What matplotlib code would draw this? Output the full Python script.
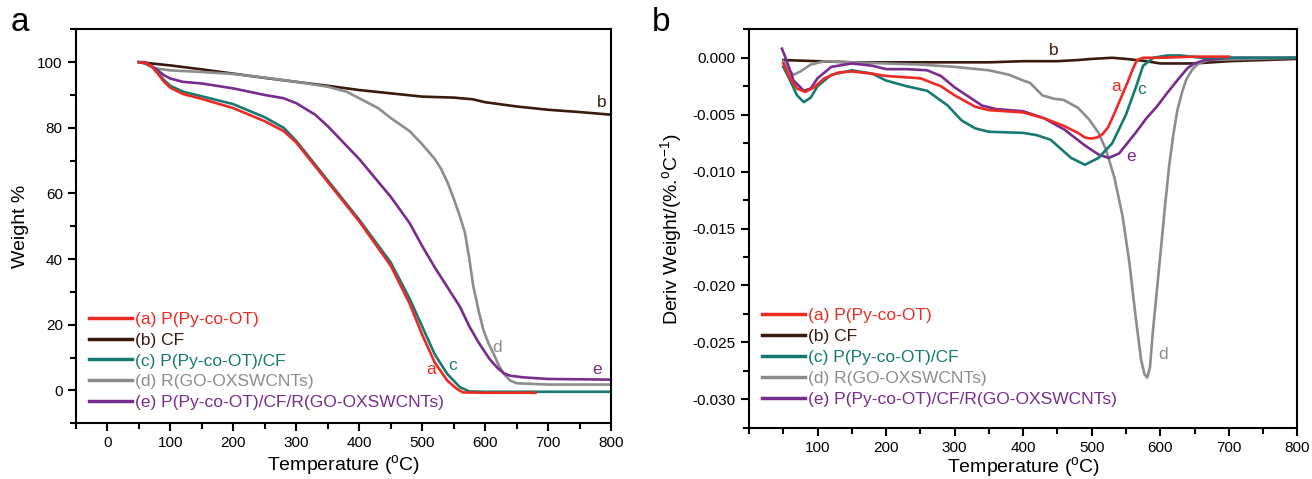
import numpy as np
import matplotlib
matplotlib.use('Agg')
from matplotlib import pyplot as plt
from matplotlib.ticker import MultipleLocator, FormatStrFormatter

plt.rcParams['font.family'] = ['Liberation Sans', 'DejaVu Sans']
plt.rcParams['mathtext.default'] = 'regular'
plt.rcParams['axes.unicode_minus'] = False

# TGA curves (panel a), temperature in C, weight in %
t_a = [50, 60, 70, 80, 90, 100, 120, 150, 200, 250, 280, 300, 350, 400, 450, 480, 500, 520, 540, 555, 565, 600, 680]
w_a = [100, 99.7, 98.8, 96.5, 94.0, 92.2, 90.3, 88.8, 86.0, 82.0, 79.0, 75.5, 63.5, 51.5, 38.0, 26.5, 17.0, 8.5, 3.0, 0.5, -0.6, -0.7, -0.7]

t_b = [50, 100, 150, 200, 250, 300, 350, 400, 450, 500, 550, 580, 600, 650, 700, 750, 800]
w_b = [100, 99.0, 97.8, 96.5, 95.2, 94.0, 92.8, 91.5, 90.5, 89.5, 89.2, 88.7, 87.8, 86.5, 85.5, 84.8, 84.0]

t_c = [50, 60, 70, 80, 90, 100, 120, 150, 200, 250, 280, 300, 350, 400, 450, 480, 500, 520, 540, 560, 575, 600, 700, 800]
w_c = [100, 99.7, 98.8, 96.8, 94.5, 92.8, 91.0, 89.6, 87.2, 83.2, 80.0, 76.0, 64.0, 52.0, 39.0, 28.0, 19.5, 11.0, 5.0, 1.0, -0.3, -0.4, -0.4, -0.4]

t_d = [50, 60, 70, 80, 100, 150, 200, 250, 300, 350, 380, 400, 430, 450, 480, 500, 520, 530, 540, 550, 560, 568, 575, 581, 590, 597, 605, 614, 622, 630, 640, 650, 700, 800]
w_d = [100, 99.5, 98.5, 98.0, 97.5, 97.0, 96.4, 95.3, 94.0, 92.5, 91.0, 89.0, 86.0, 83.0, 79.0, 75.0, 70.5, 67.5, 63.5, 58.5, 53.0, 48.0, 40.0, 32.0, 24.0, 18.6, 14.5, 11.0, 7.5, 5.0, 3.0, 2.2, 1.8, 1.8]

t_e = [50, 60, 75, 90, 100, 120, 150, 200, 250, 280, 300, 330, 350, 400, 450, 480, 500, 520, 540, 560, 575, 590, 607, 620, 630, 640, 660, 700, 800]
w_e = [100, 100, 98.2, 96.0, 95.0, 94.0, 93.5, 92.0, 90.0, 89.0, 87.5, 84.0, 80.5, 70.5, 59.0, 51.0, 44.0, 37.5, 31.5, 25.5, 19.5, 14.5, 9.6, 6.8, 5.2, 4.5, 4.0, 3.5, 3.3]

# DTG curves (panel b), derivative weight in %/C
dt_a = [50, 60, 70, 82, 95, 110, 130, 150, 180, 200, 250, 280, 300, 330, 350, 400, 430, 460, 480, 490, 499, 508, 516, 524, 533, 545, 552, 560, 566, 575, 600, 650, 700]
dw_a = [-0.0005, -0.0018, -0.0027, -0.0030, -0.0026, -0.0018, -0.0013, -0.0012, -0.0014, -0.0016, -0.0018, -0.0025, -0.0033, -0.0043, -0.0046, -0.0048, -0.0053, -0.0060, -0.0066, -0.0070, -0.0071, -0.0070, -0.0067, -0.0061, -0.0049, -0.0032, -0.0022, -0.0010, -0.0002, 0.0, 0.0, 0.0001, 0.0001]

dt_b = [50, 100, 150, 200, 250, 300, 350, 400, 450, 480, 500, 530, 550, 580, 600, 650, 700, 750, 800]
dw_b = [-0.0002, -0.0003, -0.0004, -0.0004, -0.0004, -0.0004, -0.0004, -0.0003, -0.0003, -0.0002, -0.0001, 0.0, -0.0001, -0.0003, -0.0005, -0.0005, -0.0003, -0.0002, -0.0001]

dt_c = [50, 60, 70, 80, 90, 100, 120, 150, 180, 200, 230, 260, 290, 310, 330, 350, 400, 420, 440, 470, 490, 510, 530, 550, 565, 575, 590, 610, 630, 660, 800]
dw_c = [-0.0008, -0.0020, -0.0033, -0.0039, -0.0035, -0.0025, -0.0015, -0.0011, -0.0014, -0.0020, -0.0025, -0.0029, -0.0042, -0.0055, -0.0062, -0.0065, -0.0066, -0.0068, -0.0072, -0.0088, -0.0094, -0.0088, -0.0075, -0.0050, -0.0025, -0.0007, 0.0, 0.0002, 0.0002, 0.0, 0.0]

dt_d = [50, 57, 65, 75, 90, 110, 150, 200, 250, 300, 350, 380, 400, 410, 428, 445, 459, 480, 496, 510, 521, 533, 545, 555, 564, 572, 577, 581, 585, 589, 595, 601, 607, 613, 619, 625, 632, 638, 647, 656, 670, 800]
dw_d = [-0.0003, -0.0010, -0.0015, -0.0012, -0.0006, -0.0003, -0.0004, -0.0005, -0.0006, -0.0008, -0.0011, -0.0015, -0.0020, -0.0022, -0.0033, -0.0036, -0.0037, -0.0044, -0.0054, -0.0066, -0.0081, -0.0105, -0.0139, -0.0180, -0.0227, -0.0265, -0.0278, -0.0281, -0.0272, -0.0242, -0.0205, -0.0168, -0.0130, -0.0095, -0.0068, -0.0046, -0.0030, -0.0019, -0.0010, -0.0005, -0.0002, 0.0]

dt_e = [48, 52, 58, 65, 80, 90, 100, 120, 150, 180, 200, 230, 260, 280, 300, 320, 340, 360, 400, 430, 460, 490, 510, 525, 540, 564, 580, 595, 610, 626, 640, 650, 665, 700, 800]
dw_e = [0.0008, 0.0002, -0.0008, -0.0020, -0.0029, -0.0027, -0.0018, -0.0008, -0.0005, -0.0007, -0.0010, -0.0010, -0.0011, -0.0016, -0.0026, -0.0034, -0.0042, -0.0045, -0.0047, -0.0053, -0.0063, -0.0077, -0.0085, -0.0088, -0.0084, -0.0066, -0.0053, -0.0043, -0.0031, -0.0019, -0.0009, -0.0005, -0.0002, 0.0, 0.0]

labels = ['(a) P(Py-co-OT)', '(b) CF', '(c) P(Py-co-OT)/CF', '(d) R(GO-OXSWCNTs)',
          '(e) P(Py-co-OT)/CF/R(GO-OXSWCNTs)']
colors = ['#ec2a24', '#3a1a0c', '#167a73', '#8d8d8d', '#7a2b8e']

fig = plt.figure(figsize=(13.12, 4.79), dpi=100)
ax1 = fig.add_axes([0.0579, 0.1163, 0.4078, 0.8225])
ax2 = fig.add_axes([0.5709, 0.1071, 0.4179, 0.8317])

tga = [(t_a, w_a), (t_b, w_b), (t_c, w_c), (t_d, w_d), (t_e, w_e)]
dtg = [(dt_a, dw_a), (dt_b, dw_b), (dt_c, dw_c), (dt_d, dw_d), (dt_e, dw_e)]

# draw order: keep a on top of c like the original
order = [1, 3, 4, 2, 0]
for i in order:
    ax1.plot(tga[i][0], tga[i][1], color=colors[i], lw=1.9, label=labels[i])
    ax2.plot(dtg[i][0], dtg[i][1], color=colors[i], lw=1.9, label=labels[i])

# curve letters
ax1.text(515, 6.5, 'a', color=colors[0], fontsize=12.5, ha='center', va='center')
ax1.text(786, 87.7, 'b', color=colors[1], fontsize=12.5, ha='center', va='center')
ax1.text(549, 7.5, 'c', color=colors[2], fontsize=12.5, ha='center', va='center')
ax1.text(619, 13, 'd', color=colors[3], fontsize=12.5, ha='center', va='center')
ax1.text(778, 6.5, 'e', color=colors[4], fontsize=12.5, ha='center', va='center')

ax2.text(536, -0.0025, 'a', color=colors[0], fontsize=12.5, ha='center', va='center')
ax2.text(444, 0.0006, 'b', color=colors[1], fontsize=12.5, ha='center', va='center')
ax2.text(573, -0.0028, 'c', color=colors[2], fontsize=12.5, ha='center', va='center')
ax2.text(604, -0.0261, 'd', color=colors[3], fontsize=12.5, ha='center', va='center')
ax2.text(558, -0.0087, 'e', color=colors[4], fontsize=12.5, ha='center', va='center')

ax1.set_xlim(-50, 800)
ax1.set_ylim(-10, 110)
ax1.set_xticks(range(0, 801, 100))
ax1.set_yticks(range(0, 101, 20))
ax1.xaxis.set_minor_locator(MultipleLocator(50))
ax1.yaxis.set_minor_locator(MultipleLocator(10))
ax1.set_xlabel('Temperature ($^{o}$C)', fontsize=14, labelpad=2)
ax1.set_ylabel('Weight %', fontsize=14, labelpad=6)

ax2.set_xlim(0, 800)
ax2.set_ylim(-0.0325, 0.0025)
ax2.set_xticks(range(100, 801, 100))
ax2.set_yticks(np.arange(-0.030, 0.0001, 0.005))
ax2.xaxis.set_minor_locator(MultipleLocator(50))
ax2.yaxis.set_minor_locator(MultipleLocator(0.0025))
ax2.yaxis.set_major_formatter(FormatStrFormatter('%.3f'))
ax2.set_xlabel('Temperature ($^{o}$C)', fontsize=14, labelpad=0)
ax2.set_ylabel('Deriv Weight/(%.$^{o}$C$^{-1}$)', fontsize=14, labelpad=6)

for ax, anchor in ((ax1, (0.0, 0.0)), (ax2, (0.0, 0.02))):
    for s in ax.spines.values():
        s.set_linewidth(1.5)
    ax.tick_params(which='major', direction='out', length=6, width=1.5, labelsize=11)
    ax.tick_params(which='minor', direction='out', length=4, width=1.5)
    handles, labs = ax.get_legend_handles_labels()
    idx = [labs.index(l) for l in labels]
    leg = ax.legend([handles[k] for k in idx], [labs[k] for k in idx],
                    loc='lower left', bbox_to_anchor=anchor, frameon=False, fontsize=12.5,
                    handlelength=2.5, handletextpad=0.15, labelspacing=0.33,
                    borderaxespad=0.35)
    for txt, c in zip(leg.get_texts(), colors):
        txt.set_color(c)
    for ln in leg.get_lines():
        ln.set_linewidth(2.5)

fig.text(0.008, 0.935, 'a', fontsize=24)
fig.text(0.497, 0.935, 'b', fontsize=24)

fig.savefig('out.png', dpi=100)
